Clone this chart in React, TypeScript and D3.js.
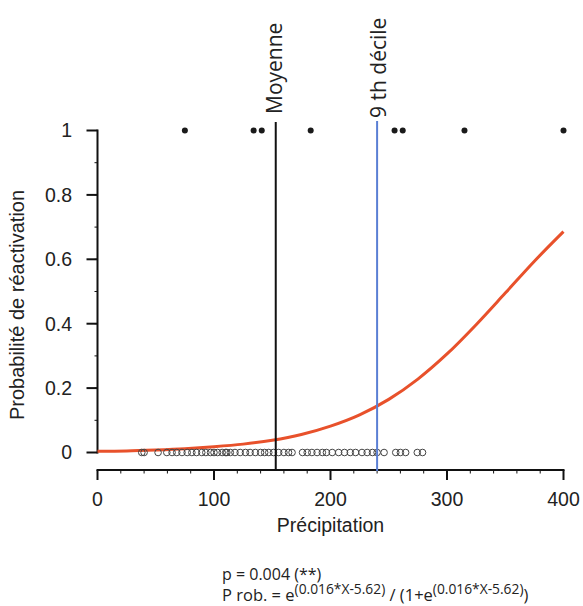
import React from "react";
import * as d3 from "d3";

// Precipitation of non-reactivated cases (probability 0)
const absentX = [38, 40, 52, 59.5, 64, 68, 72.5, 77, 81, 85, 89.5, 93, 97, 100, 103, 107, 110, 111, 114, 118, 122.5, 127, 131, 135.5, 140, 143.5, 147, 151, 155.5, 160, 164, 167, 176, 180, 184, 188.5, 193, 196.5, 201.5, 207, 212, 217, 221.5, 227, 231.5, 236, 240, 246, 256, 260, 264.5, 274.5, 279];
// Precipitation of reactivated cases (probability 1)
const presentX = [75, 134, 141, 183, 255, 262, 315, 400];
// Fitted curve
const curveX = [0, 25, 50, 75, 100, 125, 150, 175, 200, 225, 250, 275, 300, 325, 350, 375, 400];
const curveP = [0.004, 0.005, 0.008, 0.012, 0.018, 0.026, 0.038, 0.056, 0.082, 0.117, 0.165, 0.228, 0.306, 0.397, 0.495, 0.594, 0.686];
const meanValue = 153;
const decile9Value = 240;
const xTicks = [0, 100, 200, 300, 400];
const yTicks = [0, 0.2, 0.4, 0.6, 0.8, 1];
const xMinor = d3.range(0, 401, 20);
const yMinor = d3.range(0, 1.001, 0.1);

export default function App() {
  const W = 583, H = 606;
  const x = d3.scaleLinear().domain([0, 400]).range([97.5, 563.5]);
  const y = d3.scaleLinear().domain([0, 1]).range([452.5, 130.5]);
  const axisY = 470;
  const line = d3.line<number>().x((_, i) => x(curveX[i])).y((d) => y(d)).curve(d3.curveMonotoneX);
  const tickFont = "Liberation Sans, Arial, sans-serif";
  const labFont = "Open Sans, sans-serif";
  const sup = 13.8;
  return (
    <svg width={W} height={H} style={{ position: "absolute", left: 0, top: 0, background: "#fff" }}>
      {/* y axis */}
      <line x1={x(0)} x2={x(0)} y1={y(1) - 1} y2={y(0) + 1} stroke="#111" strokeWidth={2} />
      {yMinor.map((v) => (
        <line key={"ym" + v} x1={x(0) - 3} x2={x(0)} y1={y(v)} y2={y(v)} stroke="#111" strokeWidth={1} />
      ))}
      {yTicks.map((v) => (
        <g key={"y" + v}>
          <line x1={x(0) - 11} x2={x(0)} y1={y(v)} y2={y(v)} stroke="#111" strokeWidth={2} />
          <text x={72} y={y(v)} dy="0.35em" textAnchor="end" fontFamily={tickFont} fontSize={19.5} fill="#222">
            {d3.format("")(v)}
          </text>
        </g>
      ))}
      {/* x axis */}
      <line x1={x(0) - 1} x2={x(400) + 1} y1={axisY} y2={axisY} stroke="#111" strokeWidth={2} />
      {xMinor.map((v) => (
        <line key={"xm" + v} x1={x(v)} x2={x(v)} y1={axisY} y2={axisY + 3.5} stroke="#111" strokeWidth={1} />
      ))}
      {xTicks.map((v) => (
        <g key={"x" + v}>
          <line x1={x(v)} x2={x(v)} y1={axisY} y2={axisY + 10} stroke="#111" strokeWidth={2} />
          <text x={x(v)} y={506} textAnchor="middle" fontFamily={tickFont} fontSize={19.5} fill="#222">
            {v}
          </text>
        </g>
      ))}
      <text x={x(200)} y={532} textAnchor="middle" fontFamily={tickFont} fontSize={19.5} fill="#222">
        Précipitation
      </text>
      <text transform={`translate(24,305) rotate(-90)`} textAnchor="middle" fontFamily={tickFont} fontSize={20} fill="#222">
        Probabilité de réactivation
      </text>
      {/* curve */}
      <path d={line(curveP) || ""} fill="none" stroke="#e8512b" strokeWidth={3} />
      {/* points */}
      {absentX.map((v, i) => (
        <circle key={"a" + i} cx={x(v)} cy={y(0)} r={3.3} fill="none" stroke="#444" strokeWidth={1} />
      ))}
      {presentX.map((v, i) => (
        <circle key={"p" + i} cx={x(v)} cy={y(1)} r={3} fill="#1a1a1a" />
      ))}
      {/* reference lines */}
      <line x1={x(meanValue)} x2={x(meanValue)} y1={122} y2={471} stroke="#111" strokeWidth={2} />
      <line x1={x(decile9Value)} x2={x(decile9Value)} y1={121} y2={471} stroke="#5a7fd4" strokeWidth={2} />
      <text transform={`translate(${x(meanValue) + 6},114) rotate(-90)`} fontFamily={labFont} fontSize={21} fill="#222">
        Moyenne
      </text>
      <text transform={`translate(${x(decile9Value) + 9},118) rotate(-90)`} fontFamily={labFont} fontSize={21} fill="#222">
        9 th décile
      </text>
      {/* formula */}
      <text x={222} y={580} fontFamily={labFont} fontSize={16} fill="#222">
        p = 0.004 (**)
      </text>
      <text x={222} y={601} fontFamily={labFont} fontSize={16.5} fill="#222">
        P rob. = e<tspan fontSize={sup} dy={-7}>(0.016*X-5.62)</tspan>
        <tspan dy={7}> / (1+e</tspan>
        <tspan fontSize={sup} dy={-7}>(0.016*X-5.62)</tspan>
        <tspan dy={7}>)</tspan>
      </text>
    </svg>
  );
}
